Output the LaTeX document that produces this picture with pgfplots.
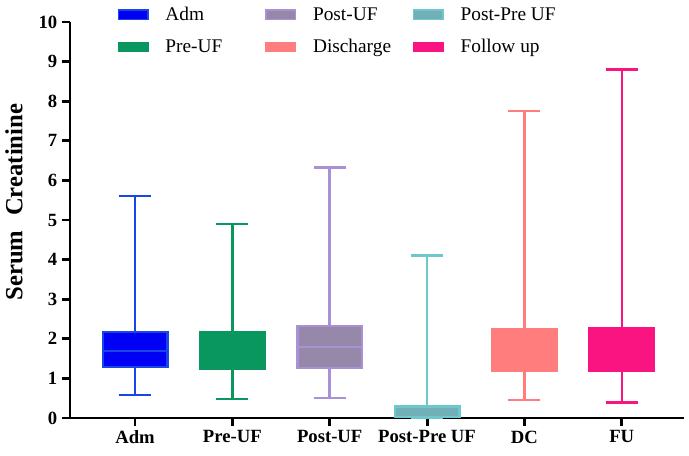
\documentclass[border=0pt]{standalone}
\usepackage{fontspec}
\setmainfont{Liberation Serif}
\usepackage{pgfplots}
\pgfplotsset{compat=1.18}
\usepgfplotslibrary{statistics}
\definecolor{cAdmF}{RGB}{0,0,245}
\definecolor{cAdmD}{RGB}{25,70,230}
\definecolor{cPre}{RGB}{10,150,95}
\definecolor{cPostF}{RGB}{150,136,168}
\definecolor{cPostD}{RGB}{170,145,215}
\definecolor{cPPF}{RGB}{112,176,182}
\definecolor{cPPD}{RGB}{108,200,205}
\definecolor{cDC}{RGB}{255,125,125}
\definecolor{cFU}{RGB}{250,20,130}
\pgfplotsset{
  mylegimg/.style={legend image code/.code={
    \draw[##1,line width=1pt] (0pt,-3.5pt) rectangle (22pt,3.5pt);
    \path (35pt,0pt);}}
}
\begin{document}
\begin{tikzpicture}
\begin{axis}[
  name=ax,
  scale only axis,
  width=460.5pt, height=297pt,
  xmin=-0.668, xmax=5.64,
  ymin=0, ymax=10,
  axis lines=left,
  axis line style={line width=2.2pt, -},
  every tick/.style={black, line width=2.2pt},
  major tick length=6pt,
  tick align=outside,
  xtick={0,1,2,3,4,5},
  xticklabels={Adm,Pre-UF,Post-UF,Post-Pre UF,DC,FU},
  ytick={0,1,...,10},
  /pgf/number format/assume math mode=true,
  ticklabel style={font=\fontsize{14}{16}\selectfont\bfseries},
  ylabel={Serum\hspace{0.6em}Creatinine},
  ylabel style={font=\fontsize{18.5}{20}\selectfont\bfseries, at={(axis description cs:-0.0912,0.545)}, anchor=center},
  clip=false,
  boxplot/draw direction=y,
  boxplot/box extend=0.664,
  boxplot/whisker extend=0.33,
  legend columns=3,
  legend cell align=left,
  legend style={draw=none, fill=none, at={(0.071,1.045)}, anchor=north west,
    font=\fontsize{14.5}{16}\selectfont,
    column sep=0pt, row sep=12.5pt,
    nodes={inner sep=0pt}},
]
\addplot+[forget plot, mark=none, solid, line width=1.8pt, draw=cAdmD, fill=cAdmF,
  boxplot prepared={draw position=0, lower whisker=0.58, lower quartile=1.29,
    median=1.69, upper quartile=2.17, upper whisker=5.6}] coordinates {};
\addplot+[forget plot, mark=none, solid, line width=1.8pt, draw=cPre, fill=cPre,
  boxplot prepared={draw position=1, lower whisker=0.48, lower quartile=1.24,
    median=1.7, upper quartile=2.17, upper whisker=4.9}] coordinates {};
\addplot+[forget plot, mark=none, solid, line width=1.8pt, draw=cPostD, fill=cPostF,
  boxplot prepared={draw position=2, lower whisker=0.51, lower quartile=1.27,
    median=1.79, upper quartile=2.33, upper whisker=6.33}] coordinates {};
\addplot+[forget plot, mark=none, solid, line width=1.8pt, draw=cPPD, fill=cPPF,
  boxplot prepared={draw position=3, lower whisker=0, lower quartile=0.02,
    median=0.02, upper quartile=0.29, upper whisker=4.1}] coordinates {};
\addplot+[forget plot, mark=none, solid, line width=1.8pt, draw=cDC, fill=cDC,
  boxplot prepared={draw position=4, lower whisker=0.45, lower quartile=1.19,
    median=1.7, upper quartile=2.25, upper whisker=7.75}] coordinates {};
\addplot+[forget plot, mark=none, solid, line width=1.8pt, draw=cFU, fill=cFU,
  boxplot prepared={draw position=5, lower whisker=0.39, lower quartile=1.2,
    median=1.7, upper quartile=2.27, upper whisker=8.8}] coordinates {};
\addlegendimage{mylegimg, draw=cAdmD, fill=cAdmF}
\addlegendentry{\makebox[75pt][l]{Adm}}
\addlegendimage{mylegimg, draw=cPostD, fill=cPostF}
\addlegendentry{\makebox[75pt][l]{Post-UF}}
\addlegendimage{mylegimg, draw=cPPD, fill=cPPF}
\addlegendentry{\makebox[75pt][l]{Post-Pre UF}}
\addlegendimage{mylegimg, draw=cPre, fill=cPre}
\addlegendentry{\makebox[75pt][l]{Pre-UF}}
\addlegendimage{mylegimg, draw=cDC, fill=cDC}
\addlegendentry{\makebox[75pt][l]{Discharge}}
\addlegendimage{mylegimg, draw=cFU, fill=cFU}
\addlegendentry{\makebox[75pt][l]{Follow up}}
\end{axis}
\pgfresetboundingbox
\path ([xshift=-52.5pt,yshift=-28.5pt]ax.south west) ([xshift=3.75pt,yshift=16.5pt]ax.north east);
\end{tikzpicture}
\end{document}
